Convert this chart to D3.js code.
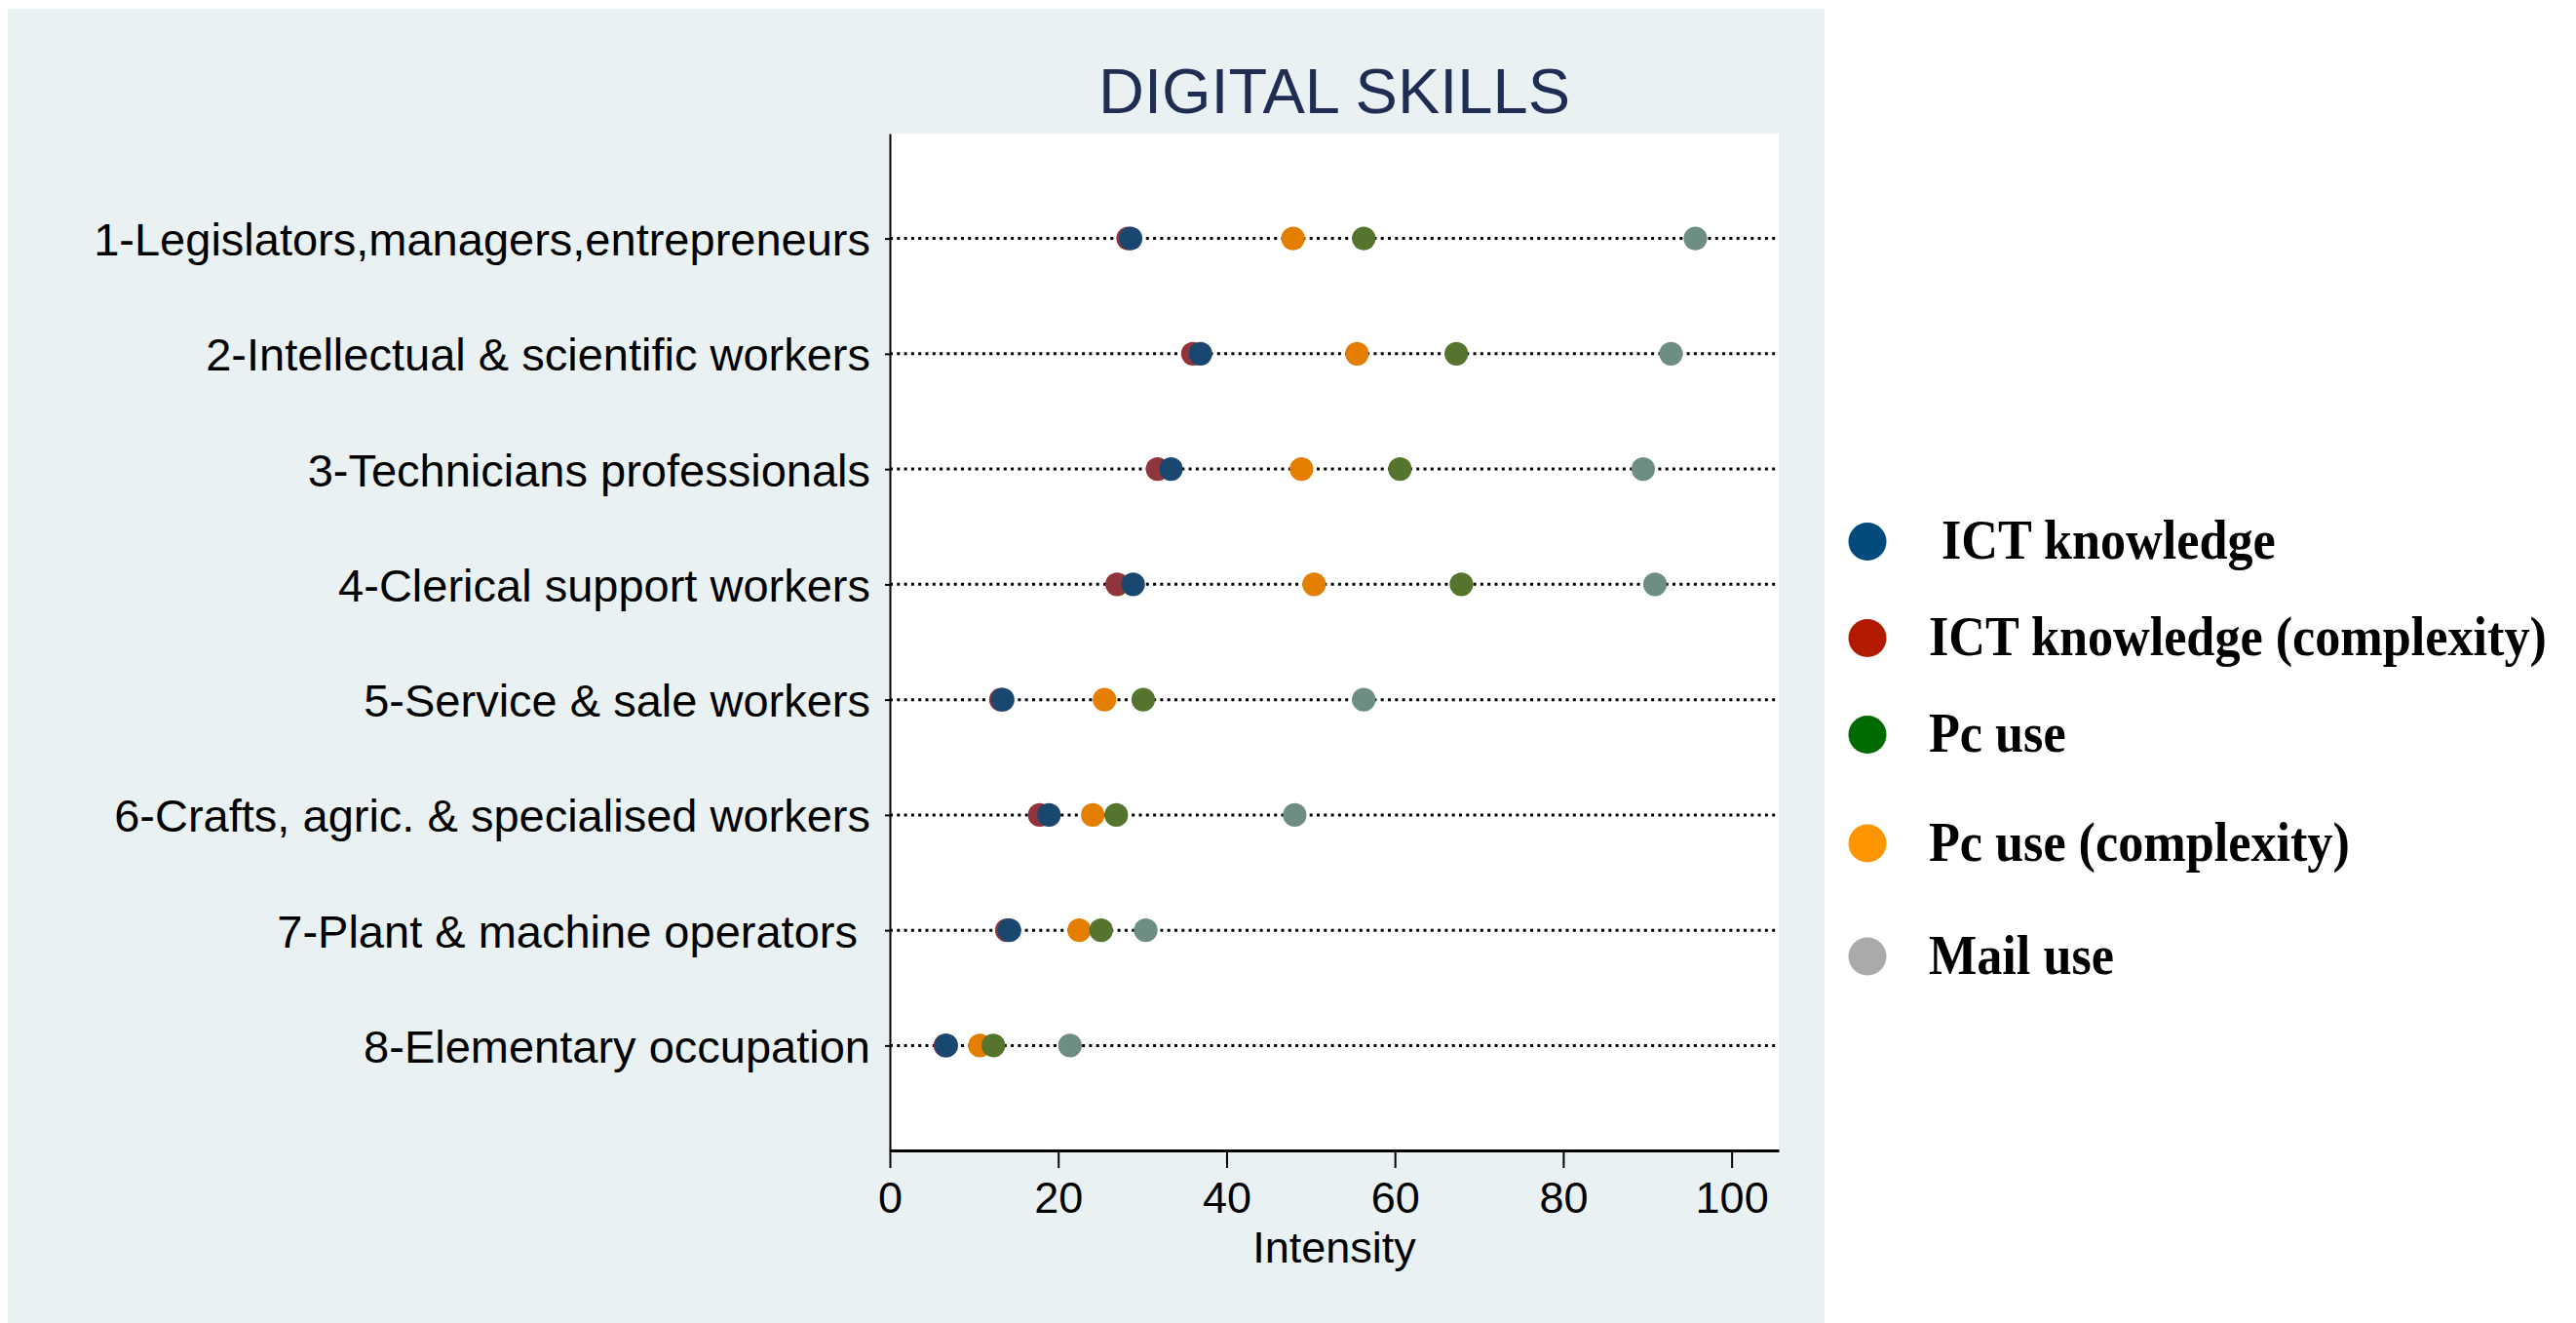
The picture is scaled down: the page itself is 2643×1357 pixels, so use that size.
<!DOCTYPE html>
<html lang="en">
  <head>
    <meta charset="UTF-8">
    <title>Digital skills</title>
    <style>
      body {
        margin: 0;
        background: #fff;
        font-family: 'Liberation Sans', Arial, Helvetica, sans-serif;
      }
      .y-axis text {
        white-space: pre;
      }
    </style>
  </head>
  <body>
    <div id="chart"></div>

    <script src="https://d3js.org/d3.v7.min.js"></script>
    <script>
      const occupations = [
        '1-Legislators,managers,entrepreneurs',
        '2-Intellectual & scientific workers',
        '3-Technicians professionals',
        '4-Clerical support workers',
        '5-Service & sale workers',
        '6-Crafts, agric. & specialised workers',
        '7-Plant & machine operators ',
        '8-Elementary occupation'
      ];

      const ictKnowledge    = [28.6, 36.9, 33.4, 28.9, 13.4, 18.9, 14.2, 6.7];
      const ictComplexity   = [28.3, 36.0, 31.8, 27.0, 13.2, 17.8, 13.9, 6.6];
      const pcUse           = [56.3, 67.3, 60.6, 67.9, 30.1, 26.9, 25.1, 12.3];
      const pcComplexity    = [47.9, 55.5, 48.9, 50.4, 25.5, 24.1, 22.5, 10.7];
      const mailUse         = [95.7, 92.8, 89.5, 90.9, 56.3, 48.1, 30.4, 21.4];

      const xTicks = [0, 20, 40, 60, 80, 100];

      // drawing order: the complexity dots sit under the plain ones
      const series = [
        { name: 'ICT knowledge (complexity)', values: ictComplexity, color: '#90353b' },
        { name: 'ICT knowledge', values: ictKnowledge, color: '#1a476f' },
        { name: 'Pc use (complexity)', values: pcComplexity, color: '#e37e00' },
        { name: 'Pc use', values: pcUse, color: '#55752f' },
        { name: 'Mail use', values: mailUse, color: '#6e8e84' }
      ];

      const legendItems = [
        { label: ' ICT knowledge', color: '#004a7c' },
        { label: 'ICT knowledge (complexity)', color: '#b21a00' },
        { label: 'Pc use', color: '#006a00' },
        { label: 'Pc use (complexity)', color: '#ff9600' },
        { label: 'Mail use', color: '#aaaaaa' }
      ];
      const legendRows = [555.5, 654.5, 753.5, 865, 981];

      const width = 2643;
      const height = 1357;
      const plot = { left: 913, right: 1825, top: 137, bottom: 1180 };

      const svg = d3.select('#chart').append('svg')
        .attr('width', width)
        .attr('height', height);

      // outer panel
      svg.append('rect')
        .attr('x', 8).attr('y', 9)
        .attr('width', 1864).attr('height', height - 9)
        .attr('fill', '#eaf1f3');

      svg.append('rect')
        .attr('x', plot.left).attr('y', plot.top)
        .attr('width', plot.right - plot.left).attr('height', plot.bottom - plot.top)
        .attr('fill', '#fff');

      const x = d3.scaleLinear()
        .domain([0, 105.6])
        .range([plot.left, plot.right]);

      const y = d3.scalePoint()
        .domain(occupations)
        .range([plot.top, plot.bottom])
        .padding(0.91);

      svg.append('text')
        .attr('x', (plot.left + plot.right) / 2)
        .attr('y', 115.7)
        .attr('text-anchor', 'middle')
        .attr('font-size', 65)
        .attr('fill', '#1f2d54')
        .text('DIGITAL SKILLS');

      // dotted guide lines
      svg.append('g')
        .selectAll('line')
        .data(occupations)
        .join('line')
        .attr('x1', plot.left)
        .attr('x2', plot.right)
        .attr('y1', d => y(d))
        .attr('y2', d => y(d))
        .attr('stroke', '#000')
        .attr('stroke-width', 3)
        .attr('stroke-dasharray', '3 4.3');

      // axes
      const yAxis = svg.append('g')
        .attr('class', 'y-axis')
        .attr('transform', `translate(${plot.left},0)`)
        .call(d3.axisLeft(y).tickSize(5).tickPadding(15).tickSizeOuter(0));
      yAxis.select('.domain').attr('stroke-width', 2);
      yAxis.selectAll('.tick line').attr('stroke-width', 2);
      yAxis.selectAll('text')
        .attr('font-family', "'Liberation Sans', Arial, sans-serif")
        .attr('font-size', 47)
        .attr('dy', '0.36em')
        .attr('fill', '#000');

      const xAxis = svg.append('g')
        .attr('transform', `translate(0,${plot.bottom})`)
        .call(d3.axisBottom(x).tickValues(xTicks).tickSize(18).tickPadding(14).tickSizeOuter(0));
      xAxis.select('.domain').attr('stroke-width', 3);
      xAxis.selectAll('.tick line').attr('stroke-width', 2);
      xAxis.selectAll('text')
        .attr('font-family', "'Liberation Sans', Arial, sans-serif")
        .attr('font-size', 45)
        .attr('fill', '#000');

      svg.append('text')
        .attr('x', (plot.left + plot.right) / 2)
        .attr('y', 1295)
        .attr('text-anchor', 'middle')
        .attr('font-size', 45)
        .attr('fill', '#000')
        .text('Intensity');

      // dots
      series.forEach(s => {
        svg.append('g')
          .selectAll('circle')
          .data(s.values)
          .join('circle')
          .attr('cx', d => x(d))
          .attr('cy', (d, i) => y(occupations[i]))
          .attr('r', 12.1)
          .attr('fill', s.color);
      });

      // legend
      const legend = svg.append('g');
      legendItems.forEach((item, i) => {
        const cy = legendRows[i];
        legend.append('circle')
          .attr('cx', 1916)
          .attr('cy', cy)
          .attr('r', 19.5)
          .attr('fill', item.color);
        legend.append('text')
          .attr('transform', `translate(1979,${cy + 17.5}) scale(0.9,1)`)
          .attr('font-family', "'Liberation Serif', 'DejaVu Serif', serif")
          .attr('font-weight', 'bold')
          .attr('font-size', 58)
          .style('white-space', 'pre')
          .attr('fill', '#000')
          .text(item.label);
      });
    </script>
  </body>
</html>
